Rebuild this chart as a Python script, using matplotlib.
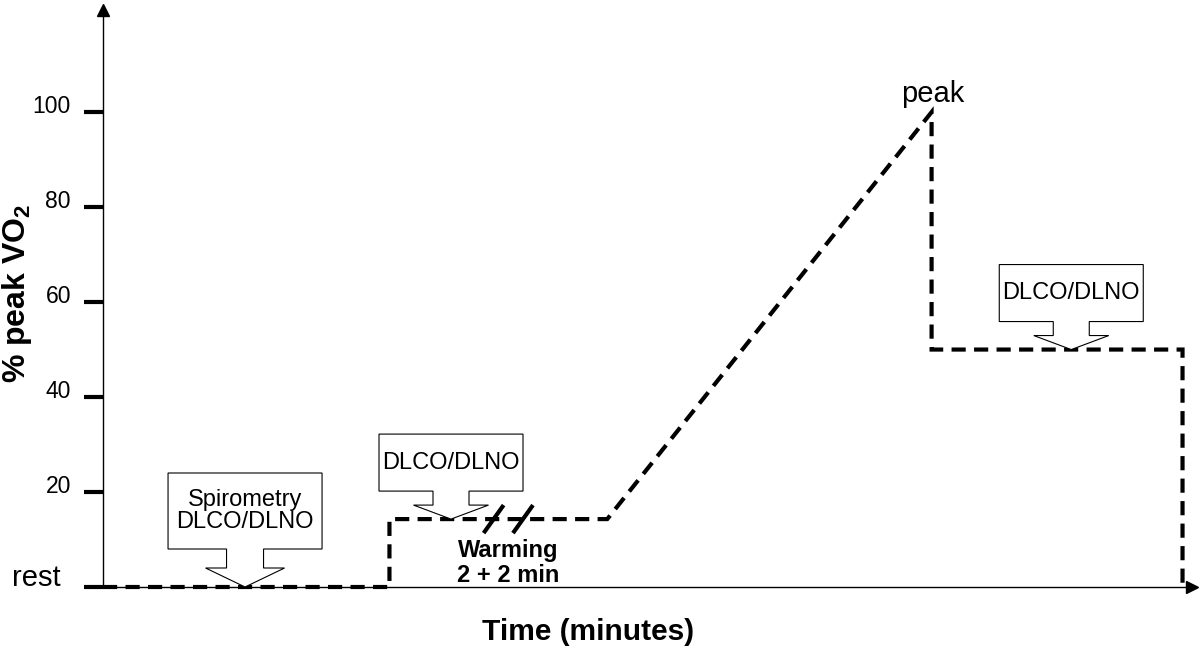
import matplotlib
matplotlib.use('Agg')
import matplotlib.pyplot as plt
import matplotlib.transforms as mtransforms
from matplotlib.patches import Polygon

plt.rcParams['font.family'] = ['Liberation Sans', 'DejaVu Sans']
plt.rcParams['mathtext.fontset'] = 'custom'
plt.rcParams['mathtext.rm'] = 'Liberation Sans'
plt.rcParams['mathtext.bf'] = 'Liberation Sans:bold'

# protocol: rest -> warming -> ramp to peak -> recovery
time = [0, 6.05, 6.05, 10.65, 17.5, 17.5, 22.8, 22.8]
pct_vo2 = [0, 0, 14.3, 14.3, 100, 50, 50, 0]

yticks = [0, 20, 40, 60, 80, 100]
ytick_labels = ['rest', '20', '40', '60', '80', '100']

# measurement callouts (point on the curve + text)
callout_x = [3.0, 7.35, 20.45]
callout_y = [0, 14.3, 50]
callout_text = ['Spirometry\nDLCO/DLNO', 'DLCO/DLNO', 'DLCO/DLNO']

break_x = [8.25, 8.87]
break_y = 14.3
warming_x, warming_y = 8.55, 5.0
peak_x, peak_y = 17.5, 100

fig = plt.figure(figsize=(12, 6.48), dpi=100)
ax = fig.add_axes([103 / 1200, 61 / 648, 1089 / 1200, 577 / 648])
ax.set_xlim(0, 23)
ax.set_ylim(0, 121.5)


def px_trans(x, y):
    # offsets given in pixels, anchored on a data point
    return (mtransforms.Affine2D().scale(1 / 100) + fig.dpi_scale_trans
            + mtransforms.ScaledTranslation(x, y, ax.transData))


def callout(x, y, text, big=False):
    if big:
        bw, bb, top, sw, sb, hw = 77, 38, 114, 18.5, 19, 39.5
    else:
        bw, bb, top, sw, sb, hw = 72, 28, 85, 18, 14, 37.5
    verts = [(-bw, top), (bw, top), (bw, bb), (sw, bb), (sw, sb), (hw, sb),
             (0, 0), (-hw, sb), (-sw, sb), (-sw, bb), (-bw, bb)]
    tr = px_trans(x, y)
    ax.add_patch(Polygon(verts, closed=True, facecolor='white', edgecolor='black',
                         lw=0.8, transform=tr, zorder=4, clip_on=False))
    ax.text(0, (bb + top) / 2, text, transform=tr, ha='center', va='center',
            fontsize=17, linespacing=1.05, zorder=5)


ax.plot(time, pct_vo2, color='black', lw=3, ls=(0, (3.4, 2.0)),
        dash_joinstyle='miter', solid_joinstyle='miter', clip_on=False, zorder=3)

for i in range(len(callout_x)):
    callout(callout_x[i], callout_y[i], callout_text[i], big=(i == 0))

# break marks on the warming phase
for bx in break_x:
    ax.plot([-10, 10], [-14, 14], color='black', lw=3, solid_capstyle='butt',
            transform=px_trans(bx, break_y), zorder=5)

ax.text(warming_x, warming_y, 'Warming\n2 + 2 min', ha='center', va='center',
        fontsize=17, fontweight='bold', linespacing=1.1)
ax.annotate('peak', (peak_x, peak_y), xytext=(1, 7), textcoords='offset points',
            ha='center', va='baseline', fontsize=21)

# axes with arrows
ax.spines[['top', 'right']].set_visible(False)
ax.spines[['left', 'bottom']].set_linewidth(1.0)
ax.plot(1, 0, '>k', ms=8, transform=ax.transAxes, clip_on=False)
ax.plot(0, 1, '^k', ms=8, transform=ax.transAxes, clip_on=False)

ax.set_xticks([])
ax.set_yticks(yticks)
ax.set_yticklabels(ytick_labels)
ax.tick_params(axis='y', length=13.7, width=3, direction='out', pad=9.4,
               labelsize=16.5)
for lab in ax.get_yticklabels():
    if lab.get_text() == 'rest':
        lab.set_fontsize(21)
        off = mtransforms.ScaledTranslation(-10 / 100, 12 / 100, fig.dpi_scale_trans)
    else:
        off = mtransforms.ScaledTranslation(0, 8 / 100, fig.dpi_scale_trans)
    lab.set_transform(lab.get_transform() + off)

fig.text(17 / 1200, 1 - 293 / 648, r'% peak VO$_\mathbf{2}$', rotation=90,
         ha='center', va='center', fontsize=23, fontweight='bold')
fig.text(588 / 1200, 1 - 632 / 648, 'Time (minutes)', ha='center', va='center',
         fontsize=21.5, fontweight='bold')

fig.savefig('out.png', dpi=100)
